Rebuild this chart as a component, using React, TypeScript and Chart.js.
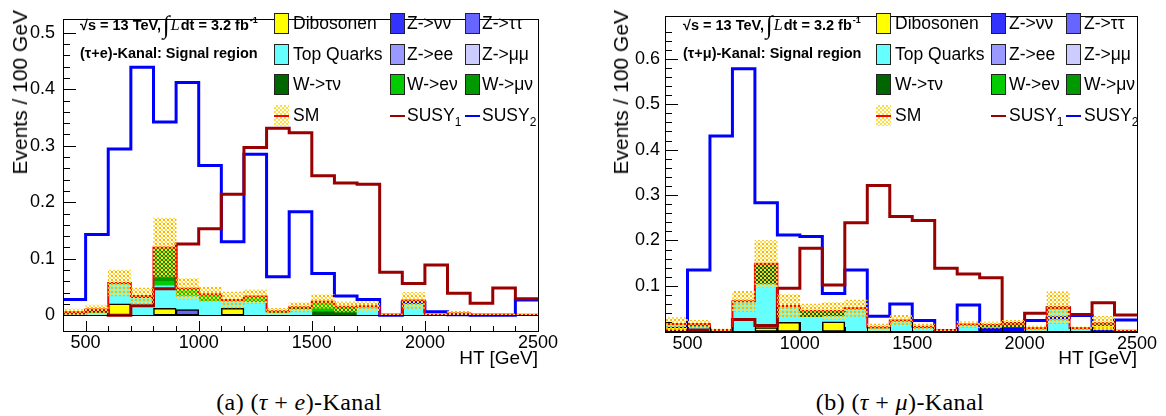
import React, { useEffect, useRef } from "react";
import { Chart, registerables } from "chart.js";

Chart.register(...registerables);

// ---------------- data ----------------
const BIN_LOW_EDGES = [400, 500, 600, 700, 800, 900, 1000, 1100, 1200, 1300, 1400, 1500, 1600, 1700, 1800, 1900, 2000, 2100, 2200, 2300, 2400];
const BIN_WIDTH = 100;
const X_MIN = 400;
const X_MAX = 2500;
const X_LABEL_EVERY = 500;
const X_MINOR_STEP = 100;
const Y_LABEL_EVERY = 0.1;
const Y_MINOR_STEP = 0.02;

// (a) tau + e channel
const E_DIBOSONEN = [0, 0, 0.020, 0, 0.012, 0, 0, 0.012, 0, 0, 0, 0, 0, 0, 0, 0, 0, 0, 0, 0, 0];
const E_Z_TAUTAU = [0, 0, 0, 0, 0, 0.010, 0, 0, 0, 0, 0, 0, 0, 0, 0, 0, 0, 0, 0, 0, 0];
const E_TOP = [0.002, 0.004, 0.037, 0.030, 0.040, 0.024, 0.024, 0.012, 0.023, 0.004, 0.010, 0, 0, 0.014, 0, 0.022, 0.001, 0.002, 0, 0, 0];
const E_W_TAUNU = [0.003, 0.006, 0, 0.004, 0, 0, 0, 0.003, 0, 0.003, 0.004, 0.006, 0.004, 0.002, 0.001, 0.004, 0, 0.001, 0.001, 0.001, 0.001];
const E_W_ENU = [0, 0, 0, 0, 0.008, 0.013, 0.013, 0, 0.010, 0, 0, 0.018, 0, 0, 0, 0, 0, 0, 0, 0, 0];
const E_W_MUNU = [0, 0, 0, 0, 0.060, 0, 0, 0, 0, 0, 0, 0, 0.011, 0, 0, 0, 0, 0, 0, 0, 0];
const E_SM_UNC = [0.006, 0.008, 0.023, 0.014, 0.052, 0.018, 0.013, 0.014, 0.012, 0.005, 0.008, 0.012, 0.009, 0.008, 0.001, 0.014, 0.001, 0.004, 0.001, 0.001, 0.001];
const E_SUSY1 = [0.004, 0.008, 0, 0.017, 0.047, 0.126, 0.153, 0.214, 0.297, 0.331, 0.323, 0.247, 0.234, 0.232, 0.076, 0.056, 0.089, 0.039, 0.021, 0.048, 0.029];
const E_SUSY2 = [0.028, 0.143, 0.294, 0.439, 0.342, 0.412, 0.265, 0.130, 0.285, 0.068, 0.183, 0.074, 0.034, 0.028, 0, 0.023, 0.006, 0.001, 0, 0, 0.027];

// (b) tau + mu channel
const MU_DIBOSONEN = [0.010, 0, 0, 0, 0.008, 0.020, 0, 0.021, 0, 0, 0, 0, 0, 0, 0, 0, 0, 0, 0, 0.015, 0];
const MU_TOP = [0.003, 0.010, 0.002, 0.066, 0.096, 0.036, 0.031, 0.012, 0.048, 0.006, 0.022, 0.007, 0.002, 0.013, 0.008, 0.004, 0.005, 0.050, 0.005, 0.003, 0];
const MU_W_TAUNU = [0.003, 0.006, 0.001, 0, 0.045, 0, 0.014, 0.012, 0.003, 0.003, 0.002, 0.003, 0, 0.002, 0.006, 0.013, 0.002, 0.002, 0.002, 0, 0.001];
const MU_SM_UNC = [0.015, 0.008, 0.002, 0.022, 0.051, 0.025, 0.015, 0.018, 0.018, 0.007, 0.011, 0.006, 0.002, 0.007, 0.007, 0.007, 0.005, 0.035, 0.003, 0.015, 0.001];
const MU_SUSY1 = [0, 0.003, 0, 0.026, 0.013, 0.095, 0.183, 0.102, 0.239, 0.321, 0.253, 0.244, 0.139, 0.126, 0.118, 0.017, 0.040, 0.052, 0.037, 0.063, 0.036];
const MU_SUSY2 = [0, 0.135, 0.430, 0.578, 0.283, 0.212, 0.209, 0.083, 0.135, 0.033, 0.060, 0.024, 0.002, 0.058, 0.004, 0.004, 0.024, 0.030, 0.035, 0, 0.025];

// legend labels (rows x columns) -> keys into the colour table
const LEGEND_ROWS: { key: string; label: string; sub?: string }[][] = [
  [{ key: "dibosonen", label: "Dibosonen" }, { key: "zNuNu", label: "Z->νν" }, { key: "zTauTau", label: "Z->ττ" }],
  [{ key: "top", label: "Top Quarks" }, { key: "zEE", label: "Z->ee" }, { key: "zMuMu", label: "Z->μμ" }],
  [{ key: "wTauNu", label: "W->τν" }, { key: "wENu", label: "W->eν" }, { key: "wMuNu", label: "W->μν" }],
  [{ key: "sm", label: "SM" }, { key: "susy1", label: "SUSY", sub: "1" }, { key: "susy2", label: "SUSY", sub: "2" }],
];

// ---------------- styles ----------------
const COLORS: Record<string, string> = {
  dibosonen: "#ffff00",
  zNuNu: "#3333ff",
  zTauTau: "#6666ff",
  top: "#66ffff",
  zEE: "#9999ff",
  zMuMu: "#ccccff",
  wTauNu: "#006600",
  wENu: "#00cc00",
  wMuNu: "#009900",
  sm: "#ff0000",
  susy1: "#990000",
  susy2: "#0000ff",
};
const OUTLINED = new Set(["dibosonen", "zTauTau"]);
const SANS = '"Liberation Sans", Arial, Helvetica, sans-serif';
const SERIF = '"Liberation Serif", "Times New Roman", serif';
const HATCH_A = "#ffb400";
const HATCH_B = "#ffdf40";

type Comp = { key: string; values: number[] };
type PanelCfg = {
  canvasLeft: number;
  width: number;
  height: number;
  plotLeft: number;
  plotRight: number;
  plotTop: number;
  plotBottom: number;
  yMin: number;
  yMax: number;
  yLabelPad: number;
  components: Comp[];
  unc: number[];
  susy1: number[];
  susy2: number[];
  yTitleLeft: number;
  xTitleRight: number;
  annotLeft: number;
  channel: React.ReactNode;
  legendBoxX: number[];
  legendTextX: number[];
  captionCenter: number;
  caption: React.ReactNode;
};

const PANEL_E: PanelCfg = {
  canvasLeft: 0,
  width: 583,
  height: 370,
  plotLeft: 63,
  plotRight: 538,
  plotTop: 10,
  plotBottom: 331,
  yMin: -0.0279,
  yMax: 0.5246,
  yLabelPad: 8,
  components: [
    { key: "dibosonen", values: E_DIBOSONEN },
    { key: "zTauTau", values: E_Z_TAUTAU },
    { key: "top", values: E_TOP },
    { key: "wTauNu", values: E_W_TAUNU },
    { key: "wENu", values: E_W_ENU },
    { key: "wMuNu", values: E_W_MUNU },
  ],
  unc: E_SM_UNC,
  susy1: E_SUSY1,
  susy2: E_SUSY2,
  yTitleLeft: 9,
  xTitleRight: 538,
  annotLeft: 80,
  channel: "(τ+e)-Kanal: Signal region",
  legendBoxX: [274, 390, 465],
  legendTextX: [293, 407, 482],
  captionCenter: 299,
  caption: (
    <>
      (a) (<i>τ</i>&nbsp;+&nbsp;<i>e</i>)-Kanal
    </>
  ),
};

const PANEL_MU: PanelCfg = {
  canvasLeft: 583,
  width: 583,
  height: 370,
  plotLeft: 82,
  plotRight: 554,
  plotTop: 9,
  plotBottom: 332,
  yMin: -0.0015,
  yMax: 0.6946,
  yLabelPad: 5,
  components: [
    { key: "dibosonen", values: MU_DIBOSONEN },
    { key: "top", values: MU_TOP },
    { key: "wTauNu", values: MU_W_TAUNU },
  ],
  unc: MU_SM_UNC,
  susy1: MU_SUSY1,
  susy2: MU_SUSY2,
  yTitleLeft: 610,
  xTitleRight: 1137,
  annotLeft: 683,
  channel: "(τ+μ)-Kanal: Signal region",
  legendBoxX: [876, 991, 1066],
  legendTextX: [895, 1009, 1084],
  captionCenter: 900,
  caption: (
    <>
      (b) (<i>τ</i>&nbsp;+&nbsp;<i>μ</i>)-Kanal
    </>
  ),
};

// ---------------- helpers ----------------
function isMultiple(v: number, step: number) {
  const r = v / step;
  return Math.abs(r - Math.round(r)) < 1e-6;
}

function makeHatch(ctx: CanvasRenderingContext2D): CanvasPattern | string {
  const c = document.createElement("canvas");
  c.width = 4;
  c.height = 4;
  const g = c.getContext("2d");
  if (!g) return HATCH_B;
  g.fillStyle = HATCH_A;
  g.fillRect(0, 0, 1, 1);
  g.fillRect(3, 0, 1, 1);
  g.fillRect(0, 3, 1, 1);
  g.fillRect(3, 3, 1, 1);
  g.fillStyle = HATCH_B;
  g.fillRect(1, 1, 2, 2);
  return ctx.createPattern(c, "repeat") || HATCH_B;
}

function buildDatasets(cfg: PanelCfg, hatch: CanvasPattern | string) {
  const n = BIN_LOW_EDGES.length;
  const centers = BIN_LOW_EDGES.map((b) => b + BIN_WIDTH / 2);
  const edges = [...BIN_LOW_EDGES, BIN_LOW_EDGES[n - 1] + BIN_WIDTH];
  const step = (vals: number[]) => edges.map((x, i) => ({ x, y: vals[Math.min(i, n - 1)] }));
  const cum = new Array(n).fill(0);
  const ds: any[] = [];

  cfg.components.forEach((c, k) => {
    const data: any[] = [];
    c.values.forEach((v, i) => {
      const lo = cum[i];
      cum[i] = lo + v;
      if (v > 0) data.push({ x: centers[i], y: [lo, lo + v] });
    });
    const outlined = OUTLINED.has(c.key);
    ds.push({
      type: "bar",
      label: c.key,
      data,
      backgroundColor: COLORS[c.key],
      borderColor: outlined ? "#000" : COLORS[c.key],
      borderWidth: outlined ? 1.5 : 0,
      borderSkipped: false,
      grouped: false,
      barPercentage: 1,
      categoryPercentage: 1,
      order: 10 + k,
    });
  });

  const band = cum.map((t, i) => ({ x: centers[i], y: [Math.max(0, t - cfg.unc[i]), t + cfg.unc[i]] }));
  ds.push({
    type: "bar",
    label: "SM unc",
    data: band,
    backgroundColor: hatch,
    borderWidth: 0,
    grouped: false,
    barPercentage: 1,
    categoryPercentage: 1,
    order: 0,
  });
  ds.push({
    type: "line",
    label: "SM",
    data: step(cum),
    borderColor: COLORS.sm,
    borderWidth: 2,
    stepped: true,
    pointRadius: 0,
    fill: false,
    order: 1,
  });
  ds.push({
    type: "line",
    label: "SUSY1",
    data: step(cfg.susy1),
    borderColor: COLORS.susy1,
    borderWidth: 3,
    stepped: true,
    pointRadius: 0,
    fill: false,
    borderJoinStyle: "miter",
    order: 2,
  });
  ds.push({
    type: "line",
    label: "SUSY2",
    data: step(cfg.susy2),
    borderColor: COLORS.susy2,
    borderWidth: 3,
    stepped: true,
    pointRadius: 0,
    fill: false,
    borderJoinStyle: "miter",
    order: 3,
  });
  return ds;
}

const rootAxesPlugin = {
  id: "rootAxes",
  afterDatasetsDraw(chart: any) {
    const { ctx, chartArea: a, scales } = chart;
    const xs = scales.x;
    const ys = scales.y;
    ctx.save();
    ctx.strokeStyle = "#000";
    ctx.lineWidth = 1;
    ctx.beginPath();
    const y0 = Math.round(ys.getPixelForValue(0)) + 0.5;
    ctx.moveTo(a.left, y0);
    ctx.lineTo(a.right, y0);
    for (const t of ys.ticks) {
      if (t.value <= ys.min + 1e-9 || t.value >= ys.max - 1e-9) continue;
      const p = Math.round(ys.getPixelForValue(t.value)) + 0.5;
      const len = isMultiple(t.value, Y_LABEL_EVERY) ? 13 : 7;
      ctx.moveTo(a.left, p);
      ctx.lineTo(a.left + len, p);
    }
    for (const t of xs.ticks) {
      if (t.value <= xs.min || t.value >= xs.max) continue;
      const p = Math.round(xs.getPixelForValue(t.value)) + 0.5;
      const len = isMultiple(t.value, X_LABEL_EVERY) ? 10 : 5;
      ctx.moveTo(p, a.bottom);
      ctx.lineTo(p, a.bottom - len);
    }
    ctx.stroke();
    ctx.strokeRect(
      Math.round(a.left) + 0.5,
      Math.round(a.top) + 0.5,
      Math.round(a.right) - Math.round(a.left),
      Math.round(a.bottom) - Math.round(a.top)
    );
    ctx.restore();
  },
};

// ---------------- components ----------------
function LegendIcon({ k, x, top }: { k: string; x: number; top: number }) {
  if (k === "sm") {
    return (
      <div
        style={{
          position: "absolute",
          left: x,
          top,
          width: 15,
          height: 21,
          backgroundImage: `repeating-conic-gradient(${HATCH_B} 0% 25%, transparent 0% 50%)`,
          backgroundSize: "4px 4px",
        }}
      >
        <div style={{ position: "absolute", left: 0, top: 9.5, width: 15, height: 2, background: COLORS.sm }} />
      </div>
    );
  }
  if (k === "susy1" || k === "susy2") {
    return <div style={{ position: "absolute", left: x, top: top + 9.5, width: 15, height: 2.5, background: COLORS[k] }} />;
  }
  return (
    <div
      style={{
        position: "absolute",
        left: x,
        top,
        width: 15,
        height: 21,
        boxSizing: "border-box",
        border: "1px solid #222",
        background: COLORS[k],
      }}
    />
  );
}

function Panel({ cfg }: { cfg: PanelCfg }) {
  const ref = useRef<HTMLCanvasElement | null>(null);

  useEffect(() => {
    const canvas = ref.current;
    if (!canvas) return;
    const ctx = canvas.getContext("2d");
    if (!ctx) return;
    const hatch = makeHatch(ctx);
    const chart = new Chart(canvas, {
      type: "bar",
      data: { datasets: buildDatasets(cfg, hatch) as any },
      options: {
        animation: false,
        responsive: false,
        maintainAspectRatio: false,
        events: [],
        layout: { padding: { left: 0, top: cfg.plotTop, right: cfg.width - cfg.plotRight, bottom: 0 } },
        plugins: { legend: { display: false }, tooltip: { enabled: false }, title: { display: false } },
        scales: {
          x: {
            type: "linear",
            min: X_MIN,
            max: X_MAX,
            offset: false,
            grid: { display: false, drawTicks: false },
            border: { display: false },
            ticks: {
              stepSize: X_MINOR_STEP,
              autoSkip: false,
              maxRotation: 0,
              minRotation: 0,
              padding: 1,
              color: "#000",
              font: { family: SANS, size: 18 },
              callback: (v: any) => (isMultiple(Number(v), X_LABEL_EVERY) ? String(v) : ""),
            },
            afterBuildTicks: (s: any) => {
              s.ticks = s.ticks.filter((t: any) => isMultiple(t.value, X_MINOR_STEP));
            },
            afterFit: (s: any) => {
              s.height = cfg.height - cfg.plotBottom;
            },
          } as any,
          y: {
            type: "linear",
            min: cfg.yMin,
            max: cfg.yMax,
            grid: { display: false, drawTicks: false },
            border: { display: false },
            ticks: {
              stepSize: Y_MINOR_STEP,
              autoSkip: false,
              padding: cfg.yLabelPad,
              color: "#000",
              font: { family: SANS, size: 18 },
              callback: (v: any) => {
                const val = Number(v);
                if (!isMultiple(val, Y_LABEL_EVERY)) return "";
                const r = Math.round(val / Y_LABEL_EVERY);
                return r === 0 ? "0" : (r * Y_LABEL_EVERY).toFixed(1);
              },
            },
            afterBuildTicks: (s: any) => {
              s.ticks = s.ticks.filter((t: any) => isMultiple(t.value, Y_MINOR_STEP));
            },
            afterFit: (s: any) => {
              s.width = cfg.plotLeft;
            },
          } as any,
        },
      },
      plugins: [rootAxesPlugin],
    });
    return () => chart.destroy();
  }, [cfg]);

  const rowTops = [13, 44, 74, 105];

  return (
    <>
      <canvas
        ref={ref}
        width={cfg.width}
        height={cfg.height}
        style={{ position: "absolute", left: cfg.canvasLeft, top: 0, width: cfg.width, height: cfg.height }}
      />
      {/* y-axis title */}
      <div
        style={{
          position: "absolute",
          left: cfg.yTitleLeft,
          top: 10,
          fontSize: 21,
          lineHeight: "21px",
          writingMode: "vertical-rl",
          transform: "rotate(180deg)",
          whiteSpace: "nowrap",
        }}
      >
        Events / 100 GeV
      </div>
      {/* x-axis title */}
      <div
        style={{
          position: "absolute",
          left: cfg.xTitleRight - 200,
          width: 200,
          textAlign: "right",
          top: 348,
          fontSize: 19,
          lineHeight: "19px",
          whiteSpace: "nowrap",
        }}
      >
        HT [GeV]
      </div>
      {/* annotation */}
      <div
        style={{
          position: "absolute",
          left: cfg.annotLeft,
          top: 12,
          height: 26,
          display: "flex",
          alignItems: "center",
          fontWeight: "bold",
          fontSize: 14.5,
          whiteSpace: "nowrap",
        }}
      >
        <span>√s = 13 TeV,</span>
        <span style={{ fontFamily: SERIF, fontWeight: "normal", fontSize: 25, margin: "0 1px 0 2px" }}>∫</span>
        <span style={{ fontFamily: SERIF, fontStyle: "italic", fontWeight: "normal", fontSize: 16, marginRight: 1 }}>L</span>
        <span>dt = 3.2 fb</span>
        <span style={{ fontSize: 9, position: "relative", top: -5, marginLeft: 1 }}>-1</span>
      </div>
      <div
        style={{
          position: "absolute",
          left: cfg.annotLeft,
          top: 44,
          height: 18,
          lineHeight: "18px",
          fontWeight: "bold",
          fontSize: 14.5,
          whiteSpace: "nowrap",
        }}
      >
        {cfg.channel}
      </div>
      {/* legend */}
      {LEGEND_ROWS.map((row, r) =>
        row.map((e, c) => (
          <React.Fragment key={`${r}-${c}`}>
            <LegendIcon k={e.key} x={cfg.legendBoxX[c]} top={rowTops[r]} />
            <div
              style={{
                position: "absolute",
                left: cfg.legendTextX[c],
                top: rowTops[r],
                height: 21,
                lineHeight: "21px",
                fontSize: 17.5,
                whiteSpace: "nowrap",
              }}
            >
              {e.label}
              {e.sub ? <sub style={{ fontSize: 12, verticalAlign: -5, lineHeight: 0 }}>{e.sub}</sub> : null}
            </div>
          </React.Fragment>
        ))
      )}
      {/* caption */}
      <div
        style={{
          position: "absolute",
          left: cfg.captionCenter - 200,
          width: 400,
          textAlign: "center",
          top: 390,
          fontFamily: SERIF,
          fontSize: 24,
          lineHeight: "24px",
          letterSpacing: 0.4,
          whiteSpace: "nowrap",
        }}
      >
        {cfg.caption}
      </div>
    </>
  );
}

export default function App() {
  return (
    <div
      style={{
        position: "absolute",
        left: 0,
        top: 0,
        width: 1166,
        height: 416,
        overflow: "hidden",
        background: "#fff",
        color: "#000",
        fontFamily: SANS,
      }}
    >
      <Panel cfg={PANEL_E} />
      <Panel cfg={PANEL_MU} />
    </div>
  );
}
